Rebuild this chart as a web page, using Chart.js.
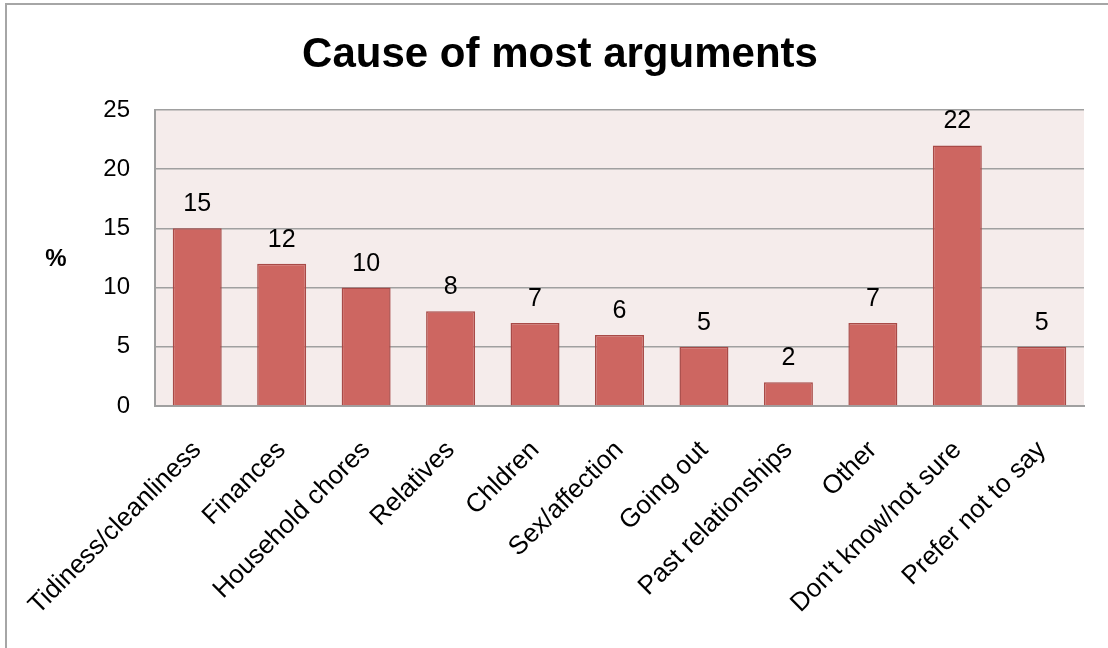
<!DOCTYPE html>
<html>
<head>
<meta charset="utf-8">
<script src="https://cdn.jsdelivr.net/npm/chart.js@4/dist/chart.umd.min.js"></script>
<style>
  html, body { margin: 0; padding: 0; background: #ffffff; }
  #wrap { position: relative; width: 1108px; height: 648px; overflow: hidden; }
  #frame { position: absolute; left: 5px; top: 3px; width: 1200px; height: 800px; border: 2px solid #a6a6a6; box-sizing: border-box; pointer-events: none; }
  canvas { position: absolute; left: 0; top: 0; }
</style>
</head>
<body>
<div id="wrap">
  <canvas id="c" width="1108" height="648"></canvas>
  <div id="frame"></div>
</div>
<script>
const titleText = "Cause of most arguments";
const yAxisLabel = "%";
const categories = [
  "Tidiness/cleanliness", "Finances", "Household chores", "Relatives", "Chldren",
  "Sex/affection", "Going out", "Past relationships", "Other", "Don't know/not sure", "Prefer not to say"
];
const percentValues = [15, 12, 10, 8, 7, 6, 5, 2, 7, 22, 5];
const yTicks = [0, 5, 10, 15, 20, 25];

const FONT = "'Liberation Sans', Arial, Helvetica, sans-serif";

const plotBg = {
  id: 'plotBg',
  beforeDraw(chart) {
    const { ctx, chartArea: a } = chart;
    ctx.save();
    ctx.fillStyle = '#f5eceb';
    ctx.fillRect(a.left, a.top, a.right - a.left, a.bottom - a.top);
    ctx.restore();
  }
};

const shiftTitle = {
  id: 'shiftTitle',
  afterLayout(chart) {
    const t = chart.titleBlock;
    if (t) { t.left += 18; t.right += 18; }
  }
};

const valueLabels = {
  id: 'valueLabels',
  afterDatasetsDraw(chart) {
    const { ctx } = chart;
    const meta = chart.getDatasetMeta(0);
    const data = chart.data.datasets[0].data;
    ctx.save();
    ctx.font = '25px ' + FONT;
    ctx.fillStyle = '#000000';
    ctx.textAlign = 'center';
    ctx.textBaseline = 'alphabetic';
    meta.data.forEach((bar, i) => {
      ctx.fillText(String(data[i]), bar.x, bar.y - 17);
    });
    ctx.restore();
  }
};

const pctLabel = {
  id: 'pctLabel',
  afterDraw(chart) {
    const { ctx, chartArea: a } = chart;
    ctx.save();
    ctx.font = 'bold 24px ' + FONT;
    ctx.fillStyle = '#000000';
    ctx.textAlign = 'center';
    ctx.textBaseline = 'middle';
    ctx.fillText(yAxisLabel, 56, (a.top + a.bottom) / 2 + 1);
    ctx.restore();
  }
};

new Chart(document.getElementById('c'), {
  type: 'bar',
  data: {
    labels: categories,
    datasets: [{
      data: percentValues,
      backgroundColor: '#cd6661',
      borderColor: '#a84a47',
      borderWidth: 1.5,
      barPercentage: 0.58,
      categoryPercentage: 1.0
    }]
  },
  options: {
    responsive: false,
    animation: false,
    layout: { padding: { left: 0, right: 24, top: 0, bottom: 0 } },
    plugins: {
      legend: { display: false },
      tooltip: { enabled: false },
      title: {
        display: true,
        text: titleText,
        color: '#000000',
        font: { family: FONT, size: 42, weight: 'bold', lineHeight: 1.2 },
        padding: { top: 30.5, bottom: 29 }
      }
    },
    scales: {
      x: {
        grid: { display: false, drawTicks: false },
        border: { display: true, color: '#a0a0a0', width: 2 },
        ticks: {
          autoSkip: false,
          maxRotation: 45,
          minRotation: 45,
          padding: 29,
          color: '#000000',
          font: { family: FONT, size: 26 }
        },
        afterFit(scale) {
          scale.height = 242;
          scale.paddingLeft = 0;
          scale.paddingRight = 0;
        }
      },
      y: {
        min: 0,
        max: 25,
        afterBuildTicks(scale) { scale.ticks = yTicks.map(v => ({ value: v })); },
        grid: { color: '#a0a0a0', lineWidth: 1.5, drawTicks: false },
        border: { display: true, color: '#a0a0a0', width: 2 },
        ticks: {
          padding: 25,
          color: '#000000',
          font: { family: FONT, size: 24 }
        },
        afterFit(scale) { scale.width = 155; }
      }
    }
  },
  plugins: [plotBg, shiftTitle, valueLabels, pctLabel]
});
</script>
</body>
</html>
